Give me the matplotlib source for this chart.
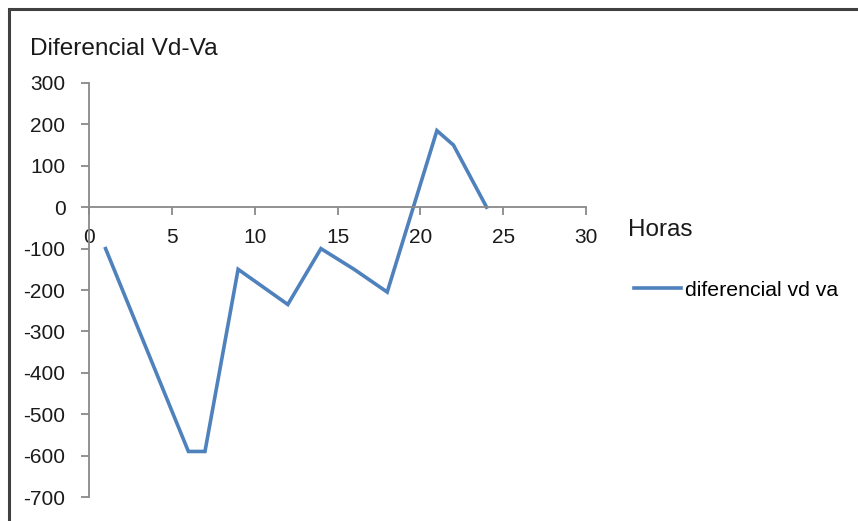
import matplotlib
matplotlib.use('Agg')
import matplotlib.pyplot as plt
from matplotlib.patches import Rectangle

# Data
horas = [1, 6, 7, 9, 12, 14, 15, 16, 18, 21, 22, 24]
diferencial = [-100, -590, -590, -150, -235, -100, -125, -150, -205, 185, 150, 0]
x_ticks = [0, 5, 10, 15, 20, 25, 30]
y_ticks = [300, 200, 100, 0, -100, -200, -300, -400, -500, -600, -700]

plt.rcParams['font.family'] = ['Liberation Sans', 'DejaVu Sans']
plt.rcParams['axes.unicode_minus'] = False
axis_grey = '#898989'

fig = plt.figure(figsize=(8.58, 5.21), dpi=100)
ax = fig.add_axes([89 / 858, 1 - 497 / 521, 497 / 858, 414 / 521])

ax.plot(horas, diferencial, color='#4F81BD', linewidth=2.6,
        label='diferencial vd va', solid_joinstyle='miter')

ax.set_xlim(0, 30)
ax.set_ylim(-700, 300)
ax.set_xticks(x_ticks)
ax.set_yticks(y_ticks)

ax.spines['left'].set_position(('data', 0))
ax.spines['bottom'].set_position(('data', 0))
ax.spines['right'].set_visible(False)
ax.spines['top'].set_visible(False)
for s in ('left', 'bottom'):
    ax.spines[s].set_color(axis_grey)
    ax.spines[s].set_linewidth(1.3)

ax.tick_params(axis='both', direction='out', length=6, width=1.3,
               color=axis_grey, labelsize=15, labelcolor='#1a1a1a')
ax.tick_params(axis='x', pad=9)
ax.tick_params(axis='y', pad=11)
ax.patch.set_alpha(0)

fig.text(30 / 858, 1 - 55 / 521, 'Diferencial Vd-Va', fontsize=17.6,
         color='#1a1a1a', ha='left', va='baseline')
fig.text(628 / 858, 1 - 236 / 521, 'Horas', fontsize=17.5,
         color='#1a1a1a', ha='left', va='baseline')

fig.legend(loc='center left', bbox_to_anchor=(634 / 858, 1 - 290 / 521),
           frameon=False, fontsize=15.3, handlelength=2.2,
           handletextpad=0.2, borderpad=0, borderaxespad=0)

# chart area border (top and left edges visible)
fig.patches.append(Rectangle((9 / 858, -0.1), 2, 1.1 - 9 / 521,
                             transform=fig.transFigure, fill=False,
                             edgecolor='#404040', linewidth=2.2))

fig.savefig('out.png', dpi=100)
